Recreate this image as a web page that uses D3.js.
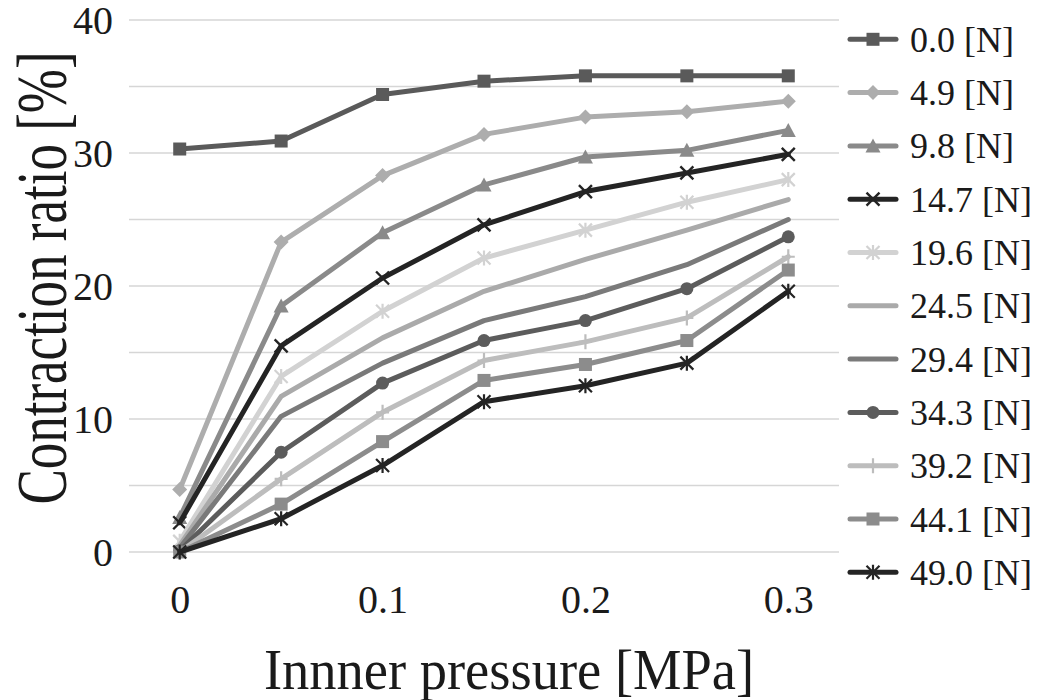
<!DOCTYPE html>
<html>
<head>
<meta charset="utf-8">
<script src="https://cdn.jsdelivr.net/npm/d3@7"></script>
</head>
<body style="margin:0">
<svg id="chart" width="1043" height="700" font-family="Liberation Serif"></svg>
<script>
// Inner pressure steps [MPa]
const pressures = [0, 0.05, 0.1, 0.15, 0.2, 0.25, 0.3];
const pressureTickLabels = ["0", "0.1", "0.2", "0.3"];
const ratioTicks = [0, 10, 20, 30, 40];

// Load levels [N]
const loads = ["0.0", "4.9", "9.8", "14.7", "19.6", "24.5", "29.4", "34.3", "39.2", "44.1", "49.0"];

// Contraction ratio [%] for each load level
const ratio_0_0  = [30.3, 30.9, 34.4, 35.4, 35.8, 35.8, 35.8];
const ratio_4_9  = [4.7, 23.3, 28.3, 31.4, 32.7, 33.1, 33.9];
const ratio_9_8  = [2.6, 18.5, 24.0, 27.6, 29.7, 30.2, 31.7];
const ratio_14_7 = [2.2, 15.5, 20.6, 24.6, 27.1, 28.5, 29.9];
const ratio_19_6 = [0.8, 13.2, 18.1, 22.1, 24.2, 26.3, 28.0];
const ratio_24_5 = [0.5, 11.7, 16.1, 19.6, 22.0, 24.2, 26.5];
const ratio_29_4 = [0.3, 10.2, 14.2, 17.4, 19.2, 21.6, 25.0];
const ratio_34_3 = [0.1, 7.5, 12.7, 15.9, 17.4, 19.8, 23.7];
const ratio_39_2 = [0.0, 5.5, 10.5, 14.4, 15.8, 17.6, 22.2];
const ratio_44_1 = [0.0, 3.6, 8.3, 12.9, 14.1, 15.9, 21.2];
const ratio_49_0 = [0.0, 2.5, 6.5, 11.3, 12.5, 14.2, 19.6];

const seriesValues = [ratio_0_0, ratio_4_9, ratio_9_8, ratio_14_7, ratio_19_6, ratio_24_5,
                      ratio_29_4, ratio_34_3, ratio_39_2, ratio_44_1, ratio_49_0];

const seriesColors = ["#5a5a5a", "#adadad", "#8a8a8a", "#242424", "#d2d2d2", "#aaaaaa",
                      "#7a7a7a", "#5c5c5c", "#bdbdbd", "#8c8c8c", "#242424"];
const seriesMarkers = ["square", "diamond", "triangle", "x", "star", "none",
                       "none", "circle", "plus", "square", "star"];

const FONT = "Liberation Serif";
const TEXT_COLOR = "#1a1a1a";

const svg = d3.select("#chart");

const plot = { left: 129, right: 839, top: 20, bottom: 552 };

const x = d3.scalePoint()
  .domain(pressures)
  .range([plot.left, plot.right])
  .padding(0.5);

const y = d3.scaleLinear()
  .domain([0, 40])
  .range([plot.bottom, plot.top]);

// Horizontal gridlines every 5 %
const gridValues = d3.range(0, 41, 5);
svg.append("g")
  .selectAll("line")
  .data(gridValues)
  .join("line")
  .attr("x1", plot.left)
  .attr("x2", plot.right)
  .attr("y1", d => y(d))
  .attr("y2", d => y(d))
  .attr("stroke", "#d6d6d6")
  .attr("stroke-width", 1.6);

// Y axis tick labels
const yAxis = d3.axisLeft(y).tickValues(ratioTicks).tickSize(0).tickPadding(0).tickFormat(d3.format("d"));
const yAxisG = svg.append("g").attr("transform", "translate(113,0)").call(yAxis);
yAxisG.attr("font-family", FONT).attr("font-size", 40);
yAxisG.select(".domain").remove();
yAxisG.selectAll("text")
  .attr("font-family", FONT)
  .attr("font-size", 40)
  .attr("fill", TEXT_COLOR)
  .attr("dy", "0.34em");

// X axis tick labels (only at 0, 0.1, 0.2, 0.3)
const xTickValues = pressures.filter((p, i) => i % 2 === 0);
const xAxis = d3.axisBottom(x).tickValues(xTickValues).tickSize(0).tickPadding(0)
  .tickFormat((d, i) => pressureTickLabels[i]);
const xAxisG = svg.append("g").attr("transform", "translate(0,585)").call(xAxis);
xAxisG.attr("font-family", FONT).attr("font-size", 40);
xAxisG.select(".domain").remove();
xAxisG.selectAll("text")
  .attr("font-family", FONT)
  .attr("font-size", 40)
  .attr("fill", TEXT_COLOR)
  .attr("y", 28)
  .attr("dy", 0);

// Axis titles (glyphs stretched across the baseline like the original figure)
svg.append("text")
  .attr("transform", "translate(509,689) scale(1,1.05)")
  .attr("text-anchor", "middle")
  .attr("font-family", FONT)
  .attr("font-size", 54.5)
  .attr("fill", TEXT_COLOR)
  .text("Innner pressure [MPa]");

svg.append("text")
  .attr("transform", "translate(66,278) rotate(-90) scale(1,1.35)")
  .attr("text-anchor", "middle")
  .attr("font-family", FONT)
  .attr("font-size", 53)
  .attr("fill", TEXT_COLOR)
  .text("Contraction ratio [%]");

// Marker drawing
function drawMarker(g, type, color) {
  const s = 6.5;
  if (type === "square") {
    g.append("rect").attr("x", -s).attr("y", -s).attr("width", 2 * s).attr("height", 2 * s)
      .attr("fill", color);
  } else if (type === "diamond") {
    g.append("path").attr("d", `M0,${-s - 1}L${s + 1},0L0,${s + 1}L${-s - 1},0Z`).attr("fill", color);
  } else if (type === "triangle") {
    g.append("path").attr("d", `M0,${-s - 1}L${s + 1},${s}L${-s - 1},${s}Z`).attr("fill", color);
  } else if (type === "circle") {
    g.append("circle").attr("r", s).attr("fill", color);
  } else if (type === "x") {
    g.append("path").attr("d", `M${-s},${-s}L${s},${s}M${-s},${s}L${s},${-s}`)
      .attr("stroke", color).attr("stroke-width", 2.4).attr("fill", "none");
  } else if (type === "star") {
    g.append("path").attr("d", `M${-s},${-s}L${s},${s}M${-s},${s}L${s},${-s}M0,${-s - 1}L0,${s + 1}`)
      .attr("stroke", color).attr("stroke-width", 2.2).attr("fill", "none");
  } else if (type === "plus") {
    g.append("path").attr("d", `M0,${-s - 1}L0,${s + 1}M${-s},0L${s},0`)
      .attr("stroke", color).attr("stroke-width", 2.2).attr("fill", "none");
  }
}

const line = d3.line()
  .x((d, i) => x(pressures[i]))
  .y(d => y(d));

const seriesG = svg.append("g");
seriesValues.forEach((vals, k) => {
  const g = seriesG.append("g");
  g.append("path")
    .datum(vals)
    .attr("d", line)
    .attr("fill", "none")
    .attr("stroke", seriesColors[k])
    .attr("stroke-width", 5)
    .attr("stroke-linejoin", "round")
    .attr("stroke-linecap", "round");
  vals.forEach((v, i) => {
    const mg = g.append("g").attr("transform", `translate(${x(pressures[i])},${y(v)})`);
    drawMarker(mg, seriesMarkers[k], seriesColors[k]);
  });
});

// Legend
const legendTop = 39.3, legendStep = 53.3;
const legend = svg.append("g");
loads.forEach((name, k) => {
  const cy = legendTop + k * legendStep;
  const g = legend.append("g").attr("transform", `translate(0,${cy})`);
  g.append("line")
    .attr("x1", 850).attr("x2", 896).attr("y1", 0).attr("y2", 0)
    .attr("stroke", seriesColors[k]).attr("stroke-width", 5).attr("stroke-linecap", "round");
  const mg = g.append("g").attr("transform", "translate(873,0)");
  drawMarker(mg, seriesMarkers[k], seriesColors[k]);
  g.append("text")
    .attr("x", 910)
    .attr("y", 12.5)
    .attr("font-family", FONT)
    .attr("font-size", 36)
    .attr("fill", TEXT_COLOR)
    .text(`${name} [N]`);
});
</script>
</body>
</html>
